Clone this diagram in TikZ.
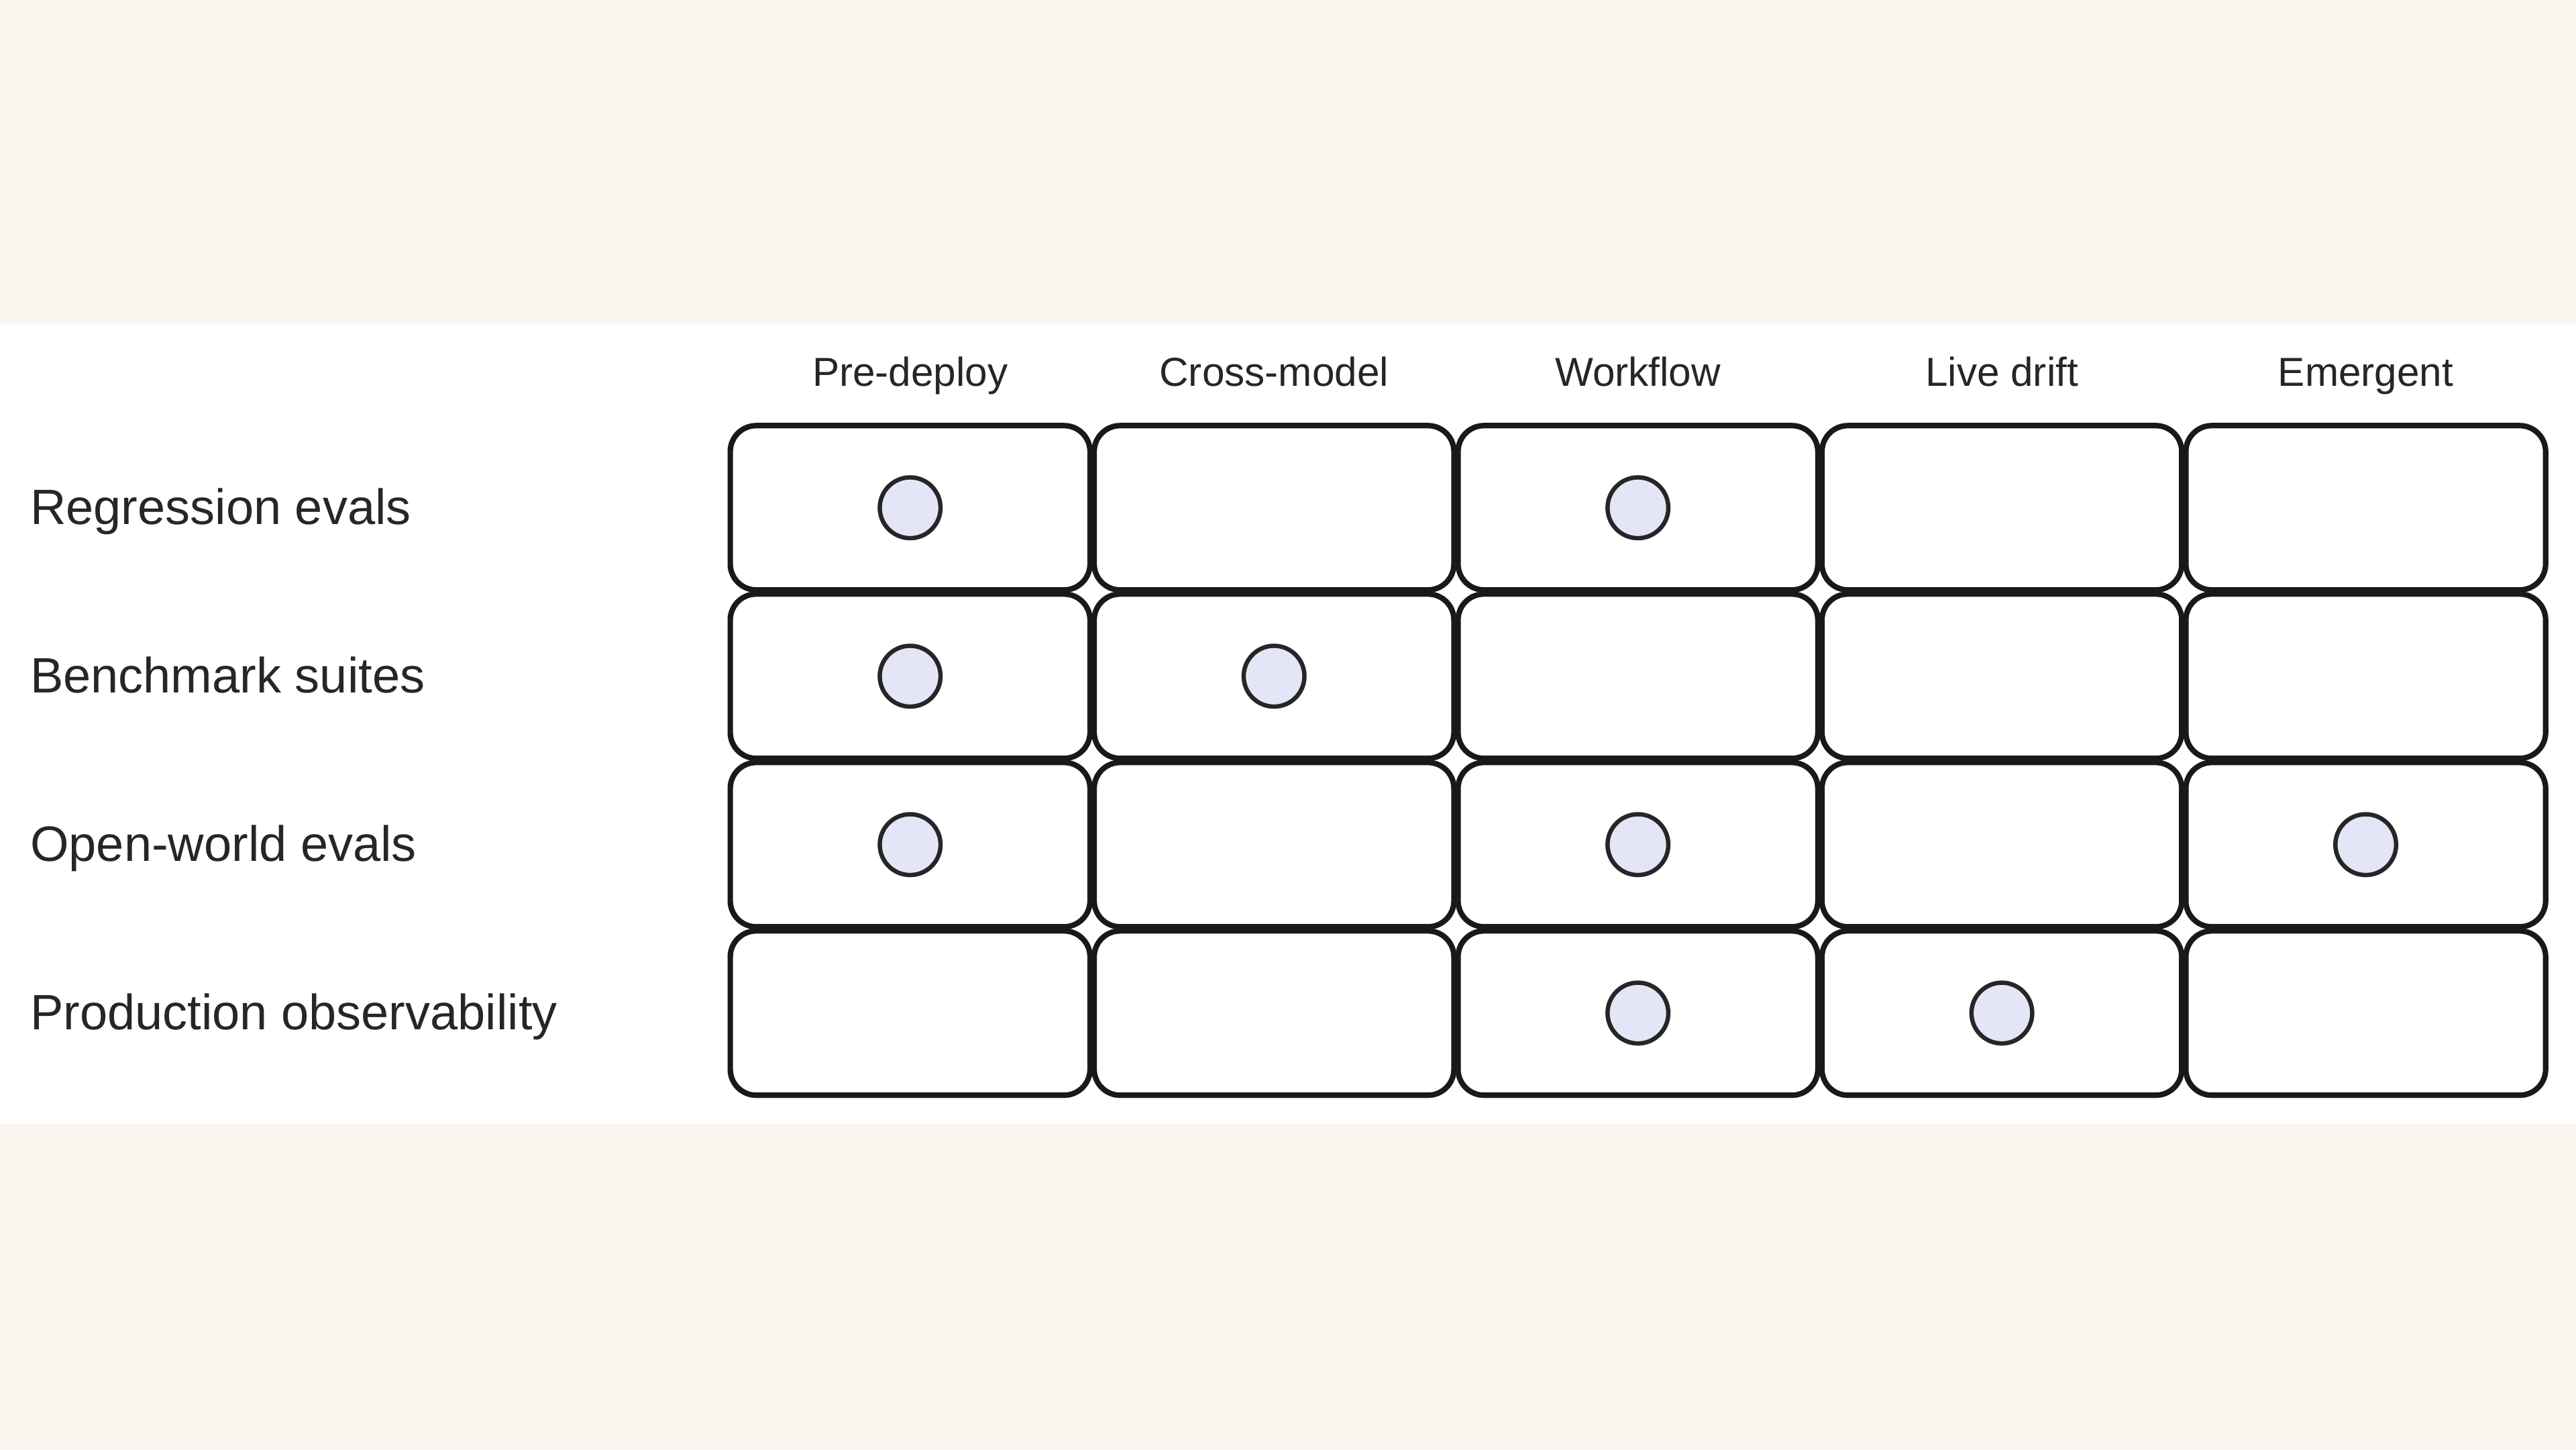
\documentclass[tikz,border=0pt]{standalone}
\usepackage{fontspec}
\setmainfont{Liberation Sans}
\usetikzlibrary{positioning}
\definecolor{paper}{HTML}{F9F5EF}
\definecolor{dotfill}{HTML}{E4E5F6}
\tikzset{
  cellbox/.style={draw=black!90,line width=0.95pt,rounded corners=4.5pt,
    minimum width=2.19cm,minimum height=1.0cm,fill=white},
  dot/.style={circle,draw=black!85,line width=0.75pt,fill=dotfill,minimum size=0.37cm,inner sep=0pt},
  colhead/.style={font=\fontsize{7pt}{8pt}\selectfont,text=black!85,anchor=base},
  rowhead/.style={font=\fontsize{8.6pt}{10pt}\selectfont,text=black!85,anchor=base west}
}
\begin{document}
\begin{tikzpicture}
\fill[paper] (0,0) rectangle (15.68,8.82);
\useasboundingbox (0,0) rectangle (15.68,8.82);
\fill[white] (0,1.98) rectangle (15.68,6.85);

% column heads
\foreach \c/\name in {1/Pre-deploy,2/Cross-model,3/Workflow,4/Live drift,5/Emergent}
  \node[colhead] (h\c) at ({5.54+(\c-1)*2.215},6.47) {\name};

% row heads and cells
\foreach \r/\name in {1/Regression evals,2/Benchmark suites,3/Open-world evals,4/Production observability}{
  \node[rowhead] (r\r) at (0.06,{6.755-\r*1.025-0.1}) {\name};
  \foreach \c in {1,...,5}
    \node[cellbox] (c\r\c) at ({5.54+(\c-1)*2.215},{6.755-\r*1.025}) {};
}

% marks
\foreach \r/\c in {1/1,1/3,2/1,2/2,3/1,3/3,3/5,4/3,4/4}
  \node[dot] (d\r\c) at (c\r\c) {};
\end{tikzpicture}
\end{document}
